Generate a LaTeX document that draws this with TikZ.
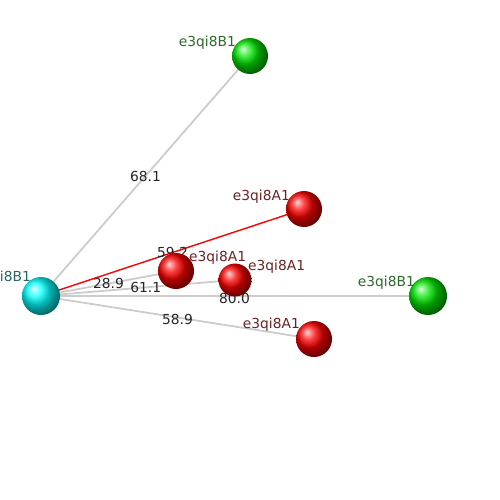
\documentclass[tikz,border=0pt]{standalone}
\usepackage{fontspec}
\setmainfont{DejaVu Sans}
\usetikzlibrary{backgrounds}
\definecolor{labA}{HTML}{6B2222}
\definecolor{labB}{HTML}{2B6A2B}
\definecolor{labC}{HTML}{2A6464}
\tikzset{
  atom/.style={circle,inner sep=0pt,minimum size=#1},
  bond/.style={gray!40,line width=1.8pt},
  hbond/.style={red,line width=1.4pt},
  dist/.style={text=black!85,font=\fontsize{13.8}{16}\selectfont},
  tag/.style={font=\fontsize{13.8}{16}\selectfont,inner sep=0pt}
}
\begin{document}
\begin{tikzpicture}[x=1pt,y=-1pt]
\useasboundingbox (0,0) rectangle (500,500);
% atoms
\node[atom=38pt,ball color=cyan] (b0) at (41,296) {};
\node[atom=36pt,ball color=green!90!black] (b1) at (250,56) {};
\node[atom=36pt,ball color=red] (a1) at (304,209) {};
\node[atom=36pt,ball color=red] (a2) at (176,271) {};
\node[atom=33pt,ball color=red] (a3) at (235,280) {};
\node[atom=38pt,ball color=green!90!black] (b2) at (428,296) {};
\node[atom=36pt,ball color=red] (a4) at (314,339) {};
% distances
\begin{scope}[on background layer]
\draw[bond] (b0.center) -- (b1.center) node[dist,midway] {68.1};
\draw[bond] (b0.center) -- (a2.center) node[dist,midway] {28.9};
\draw[bond] (b0.center) -- (a3.center) node[dist,pos=0.54] {61.1};
\draw[bond,line width=2.6pt] (b0.center) -- (b2.center) node[dist,midway,yshift=-2pt] {80.0};
\draw[bond] (b0.center) -- (a4.center) node[dist,midway,yshift=-2pt] {58.9};
\draw[hbond] (b0.center) -- (a1.center) node[dist,midway] {59.2};
\end{scope}
% labels
\node[tag,text=labC,anchor=east] (t0) at ([shift={(-10,-18)}]b0.center) {e3qi8B1};
\node[tag,text=labB,anchor=east] (t1) at ([shift={(-14,-13)}]b1.center) {e3qi8B1};
\node[tag,text=labA,anchor=east] (t2) at ([shift={(-14,-12)}]a1.center) {e3qi8A1};
\node[tag,text=labA,anchor=west] (t3) at ([shift={(13,-13)}]a2.center) {e3qi8A1};
\node[tag,text=labA,anchor=west] (t4) at ([shift={(13,-13)}]a3.center) {e3qi8A1};
\node[tag,text=labB,anchor=east] (t5) at ([shift={(-13,-13)}]b2.center) {e3qi8B1};
\node[tag,text=labA,anchor=east] (t6) at ([shift={(-14,-14)}]a4.center) {e3qi8A1};
\end{tikzpicture}
\end{document}
